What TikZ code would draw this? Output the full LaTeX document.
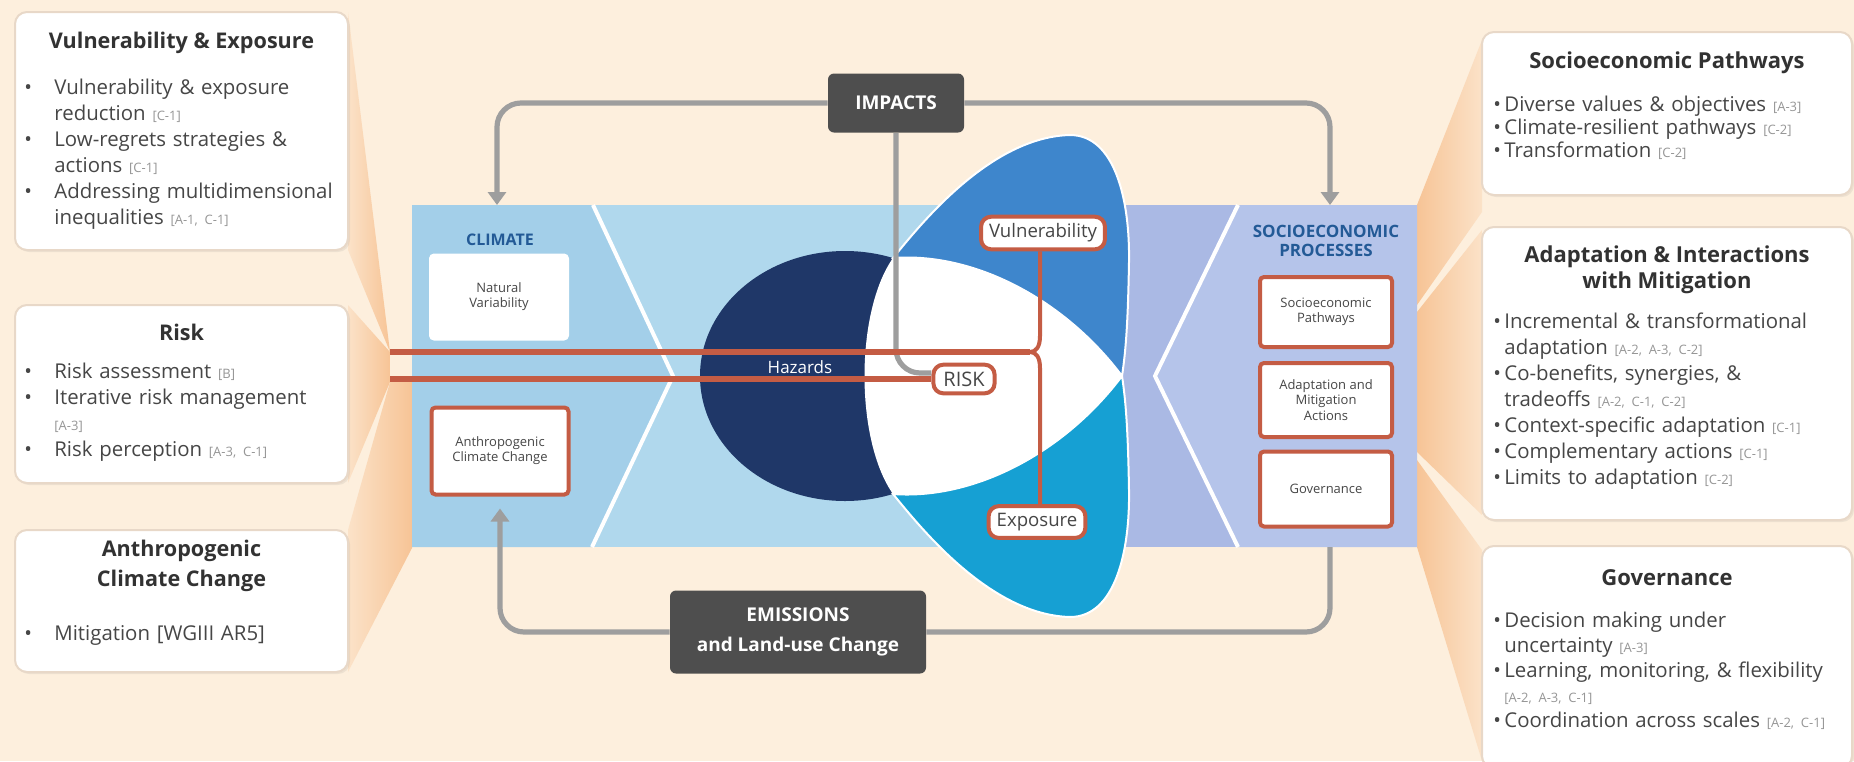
\documentclass[tikz,border=0pt]{standalone}
\usepackage{fontspec}
\setmainfont{Open Sans}
\usetikzlibrary{shapes,arrows.meta,backgrounds,shadows}

\definecolor{cream}{RGB}{253,239,221}
\definecolor{peach}{RGB}{247,196,150}
\definecolor{peachlt}{RGB}{251,226,200}
\definecolor{climblue}{RGB}{163,207,233}
\definecolor{midblue}{RGB}{176,216,237}
\definecolor{lavA}{RGB}{170,185,228}
\definecolor{lavB}{RGB}{181,196,234}
\definecolor{navy}{RGB}{31,55,104}
\definecolor{vulblue}{RGB}{62,134,204}
\definecolor{expblue}{RGB}{22,160,211}
\definecolor{rust}{RGB}{196,92,68}
\definecolor{connect}{RGB}{158,158,158}
\definecolor{impactgray}{RGB}{78,78,78}
\definecolor{txt}{RGB}{70,70,70}
\definecolor{titletxt}{RGB}{50,50,50}
\definecolor{citegray}{RGB}{150,150,150}
\definecolor{labelblue}{RGB}{35,90,150}
\definecolor{boxline}{RGB}{232,216,200}

\newcommand{\cit}[1]{{\fontsize{6.5}{7}\selectfont\color{citegray}[#1]}}
\newcommand{\nl}{\hfil\break}
\newcommand{\bitem}[1]{\par\noindent\hangindent=15pt\hangafter=1\makebox[15pt][l]{\textbullet}#1}
\newcommand{\ritem}[1]{\par\noindent\hangindent=5.5pt\hangafter=1\makebox[5.5pt][l]{\textbullet}#1}

\begin{document}
\begin{tikzpicture}[x=0.5pt,y=-0.5pt,
  textbox/.style={draw=boxline,line width=1pt,fill=white,rounded corners=6pt,minimum width=166.5pt,
    drop shadow={shadow xshift=1pt,shadow yshift=-1pt,opacity=.12}},
  rtextbox/.style={textbox,minimum width=185pt},
  boxtitle/.style={text=titletxt,align=center,inner sep=0pt,font=\bfseries\fontsize{10.8}{15}\selectfont},
  boxbody/.style={anchor=north west,inner sep=0pt,text=txt,text width=175pt,font=\fontsize{10.2}{13}\selectfont},
  panelbox/.style={draw=rust,line width=2pt,fill=white,rounded corners=2pt,minimum width=66pt,text=txt,align=center,inner sep=1pt,font=\fontsize{6.5}{7.6}\selectfont},
  tag/.style={draw=rust,line width=2pt,fill=white,rounded corners=5pt,text=txt,inner xsep=4pt,inner ysep=3.5pt,font=\fontsize{9.3}{10}\selectfont},
  darkbox/.style={fill=impactgray,rounded corners=3pt,text=white,align=center,font=\bfseries\fontsize{9.5}{15}\selectfont},
  grayline/.style={draw=connect,line width=2.6pt,rounded corners=12pt},
  redline/.style={draw=rust,line width=3pt},
  arrowend/.style={-{Triangle[width=9pt,length=6.5pt]}}]
\fill[cream] (0,0) rectangle (1854,761);
\useasboundingbox (0,0) rectangle (1854,761);

% callouts
\shade[left color=peachlt,right color=peach] (348,12) -- (390,352) -- (348,250) -- cycle;
\shade[left color=peachlt,right color=peach] (348,305) -- (390,352) -- (390,382) -- (348,483) -- cycle;
\shade[left color=peachlt,right color=peach] (348,530) -- (390,382) -- (412,382) -- (412,548) -- (348,672) -- cycle;
\shade[left color=peach,right color=peachlt] (1482,40) -- (1417,205) -- (1417,305) -- (1482,212) -- cycle;
\shade[left color=peach,right color=peachlt] (1482,230) -- (1417,312) -- (1417,452) -- (1482,515) -- cycle;
\shade[left color=peach,right color=peachlt] (1482,550) -- (1417,460) -- (1417,547) -- (1482,761) -- cycle;

% panel
\fill[midblue] (412,205) rectangle (1120,547);
\fill[climblue] (412,205) -- (593,205) -- (673,376) -- (592,547) -- (412,547) -- cycle;
\fill[lavA] (1120,205) rectangle (1417,547);
\fill[lavB] (1238,205) -- (1155,376) -- (1238,547) -- (1417,547) -- (1417,205) -- cycle;
\draw[white,line width=2pt] (593,205) -- (673,376) -- (592,547);
\draw[white,line width=2pt] (1238,205) -- (1155,376) -- (1238,547);

% hazards, vulnerability, exposure
\fill[navy] (845,376) ellipse [x radius=145, y radius=125];
\filldraw[draw=white,line width=1pt,fill=vulblue] (893,258) .. controls (920,225) and (990,137) .. (1070,135) .. controls (1115,135) and (1130,200) .. (1129,262) .. controls (1128,320) and (1126,350) .. (1122,376) .. controls (1065,300) and (975,252) .. (893,258) -- cycle;
\filldraw[draw=white,line width=1pt,fill=expblue] (893,494) .. controls (920,527) and (990,615) .. (1070,617) .. controls (1115,617) and (1130,552) .. (1129,490) .. controls (1128,432) and (1126,402) .. (1122,376) .. controls (1065,452) and (975,500) .. (893,494) -- cycle;
\fill[white] (893,258) .. controls (975,252) and (1065,300) .. (1122,376) .. controls (1065,452) and (975,500) .. (893,494) .. controls (855,440) and (855,312) .. (893,258) -- cycle;

% text boxes
\node[textbox,minimum height=119pt] (vebox) at (181.5,131) {};
\node[textbox,minimum height=89pt] (riskbox) at (181.5,394) {};
\node[textbox,minimum height=71pt] (anthbox) at (181.5,601) {};
\node[rtextbox,minimum height=81.5pt] (spbox) at (1667,113.5) {};
\node[rtextbox,minimum height=146.5pt] (adbox) at (1667,373.5) {};
\node[rtextbox,minimum height=111pt] (govbox) at (1667,657) {};

\node[boxtitle] (vetitle) at (181.5,43) {Vulnerability \& Exposure};
\node[boxbody] (vebody) at (24,68) {\bitem{Vulnerability \& exposure\nl reduction \cit{C-1}}\bitem{Low-regrets strategies \&\nl actions \cit{C-1}}\bitem{Addressing multidimensional\nl inequalities \cit{A-1, C-1}}\par};
\node[boxtitle] (risktitle) at (181.5,332) {Risk};
\node[boxbody] (riskbody) at (24,352) {\bitem{Risk assessment \cit{B}}\bitem{Iterative risk management\nl\cit{A-3}}\bitem{Risk perception \cit{A-3, C-1}}\par};
\node[boxtitle] (anthtitle) at (181.5,566) {Anthropogenic\\Climate Change};
\node[boxbody] (anthbody) at (24,614) {\bitem{Mitigation [WGIII AR5]}\par};

\node[boxtitle,font=\bfseries\fontsize{11}{13}\selectfont] (sptitle) at (1667,63) {Socioeconomic Pathways};
\node[boxbody,font=\fontsize{10.2}{11.5}\selectfont] (spbody) at (1493,88) {\ritem{Diverse values \& objectives \cit{A-3}}\ritem{Climate-resilient pathways \cit{C-2}}\ritem{Transformation \cit{C-2}}\par};
\node[boxtitle,font=\bfseries\fontsize{11}{13}\selectfont] (adtitle) at (1667,270) {Adaptation \& Interactions\\with Mitigation};
\node[boxbody] (adbody) at (1493,302) {\ritem{Incremental \& transformational\nl adaptation \cit{A-2, A-3, C-2}}\ritem{Co-benefits, synergies, \&\nl tradeoffs \cit{A-2, C-1, C-2}}\ritem{Context-specific adaptation \cit{C-1}}\ritem{Complementary actions \cit{C-1}}\ritem{Limits to adaptation \cit{C-2}}\par};
\node[boxtitle,font=\bfseries\fontsize{11}{13}\selectfont] (govtitle) at (1667,578) {Governance};
\node[boxbody,font=\fontsize{10.2}{12.5}\selectfont] (govbody) at (1493,602) {\ritem{Decision making under\nl uncertainty \cit{A-3}}\ritem{Learning, monitoring, \& flexibility\nl\cit{A-2, A-3, C-1}}\ritem{Coordination across scales \cit{A-2, C-1}}\par};

% diagram nodes
\node[text=labelblue,font=\bfseries\fontsize{8}{9}\selectfont] (climlbl) at (500,240) {CLIMATE};
\node[panelbox,draw=white,line width=1pt,minimum width=69pt,minimum height=42.5pt] (natvar) at (499,297) {Natural\\Variability};
\node[panelbox,minimum width=68.5pt,minimum height=43.5pt] (anth) at (500,451) {Anthropogenic\\Climate Change};
\node[text=labelblue,align=center,font=\bfseries\fontsize{8.5}{9.5}\selectfont] (soclbl) at (1326,241) {SOCIOECONOMIC\\PROCESSES};
\node[panelbox,minimum height=35pt] (sp) at (1326,312) {Socioeconomic\\Pathways};
\node[panelbox,minimum height=37pt] (am) at (1326,400) {Adaptation and\\Mitigation\\Actions};
\node[panelbox,minimum height=37.5pt] (gov) at (1326,489) {Governance};
\node[text=white,font=\fontsize{8.5}{10}\selectfont] (haz) at (800,367) {Hazards};
\node[tag,inner xsep=5pt,font=\fontsize{10}{11}\selectfont] (risk) at (964,379) {RISK};
\node[tag] (vul) at (1043,233) {Vulnerability};
\node[tag] (expo) at (1037,522) {Exposure};
\node[darkbox,minimum width=68pt,minimum height=29.5pt] (imp) at (896,103) {IMPACTS};
\node[darkbox,minimum width=128pt,minimum height=41.5pt] (emi) at (798,632) {EMISSIONS\\and Land-use Change};

\coordinate (veend) at (390,352);
\coordinate (riskend) at (390,379);
\coordinate (brace) at (1030,352);
\coordinate (climin) at (497,205);
\coordinate (socin) at (1330,205);
\coordinate (socout) at (1330,547);

% connectors
\draw[grayline,arrowend] (imp.west) -| (climin);
\draw[grayline,arrowend] (imp.east) -| (socin);
\draw[grayline] (imp.south) |- ([yshift=3pt]risk.west);
\draw[grayline] (socout) |- (emi.east);
\draw[grayline,arrowend] (emi.west) -| ([yshift=-6pt]anth.south);
\draw[redline] (veend) -- (brace);
\draw[redline] (riskend) -- (risk.west);
\draw[rust,line width=2pt] (vul.south -| 1040,0) -- (1040,336) .. controls (1040,347) and (1036,352) .. (brace) .. controls (1036,352) and (1040,357) .. (1040,368) -- (expo.north -| 1040,0);
\end{tikzpicture}
\end{document}
